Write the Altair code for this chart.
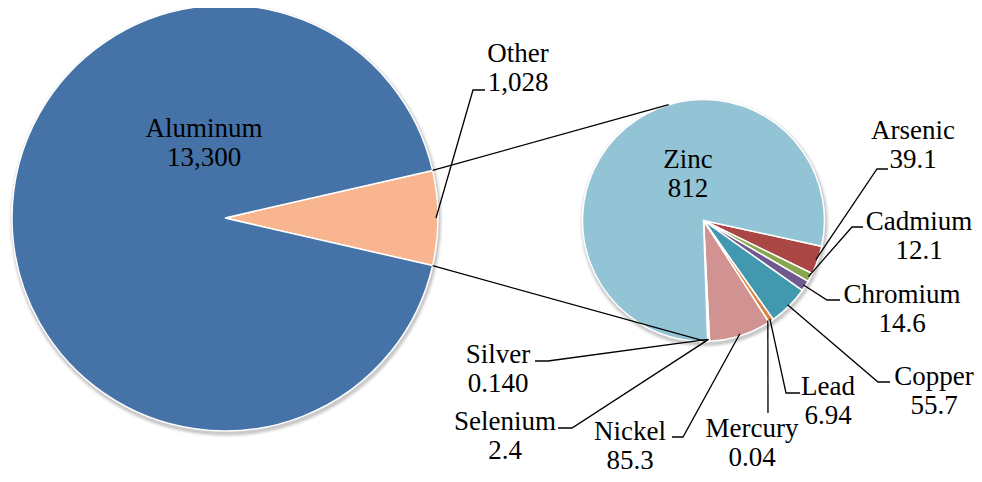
import math
import altair as alt
import pandas as pd

# ---------------- data ----------------
main_names = ["Other", "Aluminum"]
main_values = [1028, 13300]
main_texts = ["1,028", "13,300"]

sub_names = ["Arsenic", "Cadmium", "Chromium", "Copper", "Lead", "Mercury",
             "Nickel", "Selenium", "Silver", "Zinc"]
sub_values = [39.1, 12.1, 14.6, 55.7, 6.94, 0.04, 85.3, 2.4, 0.140, 812]
sub_texts = ["39.1", "12.1", "14.6", "55.7", "6.94", "0.04", "85.3", "2.4", "0.140", "812"]

# ---------------- styles / layout ----------------
color_domain = main_names + sub_names
color_range = ["#F9B590", "#4572A7",
               "#AA4643", "#89A54E", "#71588F", "#4198AF", "#DB843D", "#93A9CF",
               "#D19392", "#B9CD96", "#A99BBD", "#93C4D6"]

OFF = 8  # page margin; layout values below are measured in page pixels
L_CX, L_CY, L_R = 225 - OFF, 218 - OFF, 213
R_CX, R_CY, R_R = 703.5 - OFF, 220.5 - OFF, 121
FONT = "Liberation Serif"
FS = 27
LINE_H = 29

L_START = math.pi / 2 - math.pi * main_values[0] / sum(main_values)
R_START = math.radians(102.3)


def pt(cx, cy, r, a):
    return cx + r * math.sin(a), cy - r * math.cos(a)


def mid_angles(values, start):
    tot = sum(values)
    acc = 0.0
    out = []
    for v in values:
        out.append(start + 2 * math.pi * (acc + v / 2) / tot)
        acc += v
    return out


left_df = pd.DataFrame({"name": main_names, "value": main_values,
                        "ord": list(range(len(main_names)))})
right_df = pd.DataFrame({"name": sub_names, "value": sub_values,
                         "ord": list(range(len(sub_names)))})

# label layout (page pixels): label x centre, first-line baseline
label_layout = {
    "Aluminum": (204, 137),
    "Other": (518, 62),
    "Zinc": (688, 168),
    "Arsenic": (913, 139),
    "Cadmium": (919, 230),
    "Chromium": (902, 303),
    "Copper": (934, 385),
    "Lead": (828, 395),
    "Mercury": (752, 437),
    "Nickel": (630, 440),
    "Selenium": (505, 430),
    "Silver": (498, 363),
}
# leader lines: elbow point and end point (page pixels)
leader_layout = {
    "Other": ((473, 90), (485, 90)),
    "Arsenic": ((877, 169), (888, 169)),
    "Cadmium": ((852, 227), (863, 227)),
    "Chromium": ((827, 300), (840, 300)),
    "Copper": ((878, 382), (890, 382)),
    "Lead": ((786, 393), (800, 393)),
    "Mercury": ((768, 413), (768, 413)),
    "Nickel": ((683, 437), (672, 437)),
    "Selenium": ((572, 428), (558, 428)),
    "Silver": ((548, 361), (535, 361)),
}

all_names = main_names + sub_names
all_texts = main_texts + sub_texts
txt_rows = []
for n, t in zip(all_names, all_texts):
    if n in label_layout:
        x, y = label_layout[n]
        txt_rows.append({"txt": n, "px": x - OFF, "py": y - OFF})
        txt_rows.append({"txt": t, "px": x - OFF, "py": y - OFF + LINE_H})
txt_df = pd.DataFrame(txt_rows)

# leader lines start at the slice's mid angle on its rim
line_rows = []
l_mid = dict(zip(main_names, mid_angles(main_values, L_START)))
r_mid = dict(zip(sub_names, mid_angles(sub_values, R_START)))
for n, (elbow, end) in leader_layout.items():
    if n in l_mid:
        sx, sy = pt(L_CX, L_CY, L_R - 2, l_mid[n])
    else:
        sx, sy = pt(R_CX, R_CY, R_R - 2, r_mid[n])
    pts = [(sx, sy), (elbow[0] - OFF, elbow[1] - OFF), (end[0] - OFF, end[1] - OFF)]
    for i, (x, y) in enumerate(pts):
        line_rows.append({"key": n, "seq": i, "px": x, "py": y})

# connectors between the "Other" slice and the second pie
other_a0 = L_START
other_a1 = L_START + 2 * math.pi * main_values[0] / sum(main_values)
conn = [
    (pt(L_CX, L_CY, L_R, other_a0), pt(R_CX, R_CY, R_R, math.radians(-16.7))),
    (pt(L_CX, L_CY, L_R, other_a1), pt(R_CX, R_CY, R_R, math.radians(179.0))),
]
for k, (a, b) in enumerate(conn):
    line_rows.append({"key": f"c{k}", "seq": 0, "px": a[0], "py": a[1]})
    line_rows.append({"key": f"c{k}", "seq": 1, "px": b[0], "py": b[1]})
line_df = pd.DataFrame(line_rows)

color_scale = alt.Scale(domain=color_domain, range=color_range)

# soft drop shadows under each pie
shadow_layers = []
for cx, cy, r in [(L_CX, L_CY, L_R), (R_CX, R_CY, R_R)]:
    for k, (dr, op) in enumerate([(4, 0.06), (3, 0.08), (2, 0.10), (1, 0.14)]):
        shadow_layers.append(
            alt.Chart(pd.DataFrame({"k": [k]})).mark_arc(
                radius=r + dr, color="#606060", opacity=op
            ).encode(x=alt.value(cx + 1), y=alt.value(cy + 2.5))
        )

left = alt.Chart(left_df).mark_arc(radius=L_R, stroke="white", strokeWidth=1.5).encode(
    theta=alt.Theta("value:Q", stack=True,
                    scale=alt.Scale(range=[L_START, L_START + 2 * math.pi])),
    color=alt.Color("name:N", scale=color_scale, legend=None),
    order=alt.Order("ord:Q"),
    x=alt.value(L_CX), y=alt.value(L_CY),
)

right = alt.Chart(right_df).mark_arc(radius=R_R, stroke="white", strokeWidth=1.5).encode(
    theta=alt.Theta("value:Q", stack=True,
                    scale=alt.Scale(range=[R_START, R_START + 2 * math.pi])),
    color=alt.Color("name:N", scale=color_scale, legend=None),
    order=alt.Order("ord:Q"),
    x=alt.value(R_CX), y=alt.value(R_CY),
)

lines = alt.Chart(line_df).mark_line(color="black", strokeWidth=1.3).encode(
    x=alt.X("px:Q", scale=None, axis=None),
    y=alt.Y("py:Q", scale=None, axis=None),
    detail="key:N",
    order="seq:Q",
)

texts = alt.Chart(txt_df).mark_text(color="black", font=FONT, fontSize=FS,
                                    align="center", baseline="alphabetic").encode(
    x=alt.X("px:Q", scale=None, axis=None),
    y=alt.Y("py:Q", scale=None, axis=None),
    text="txt:N",
)

chart = alt.layer(*shadow_layers, left, right, lines, texts).resolve_scale(
    theta="independent"
).properties(
    width=966, height=466,
    autosize=alt.AutoSizeParams(type="none"),
    padding=0,
).configure_view(strokeWidth=0)

chart.save("out.html", embed_options={"renderer": "svg", "actions": False})
